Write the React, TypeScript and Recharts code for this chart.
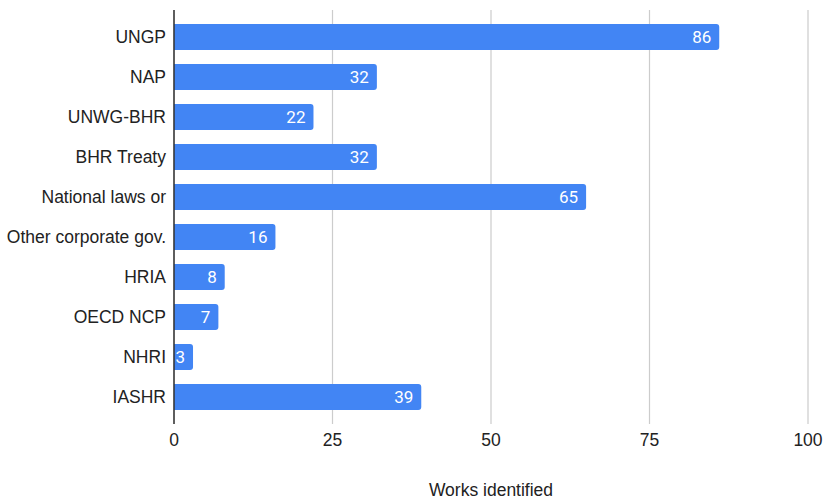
import React from 'react';
import { BarChart, Bar, XAxis, YAxis, CartesianGrid, LabelList } from 'recharts';

const categories = [
  'UNGP',
  'NAP',
  'UNWG-BHR',
  'BHR Treaty',
  'National laws or',
  'Other corporate gov.',
  'HRIA',
  'OECD NCP',
  'NHRI',
  'IASHR',
];
const works = [86, 32, 22, 32, 65, 16, 8, 7, 3, 39];
const xTicks = [0, 25, 50, 75, 100];

const data = categories.map((name, i) => ({ name, works: works[i] }));

const textFont = 'Liberation Sans, Arial, sans-serif';

const App = () => {
  return (
    <div style={{ position: 'absolute', left: 0, top: 0, background: '#fff' }}>
      <BarChart
        width={823}
        height={500}
        layout="vertical"
        data={data}
        margin={{ top: 10, right: 15, left: 0, bottom: 0 }}
        barSize={26}
      >
        <CartesianGrid horizontal={false} vertical={true} stroke="#cccccc" strokeWidth={1.2} />
        <XAxis
          type="number"
          domain={[0, 100]}
          ticks={xTicks}
          axisLine={false}
          tickLine={false}
          height={76}
          tickMargin={4}
          tick={{ fontSize: 17.5, fill: '#222', fontFamily: textFont }}
          label={{
            value: 'Works identified',
            position: 'insideBottom',
            offset: 4,
            fontSize: 17.5,
            fill: '#222',
            fontFamily: textFont,
          }}
        />
        <YAxis
          dataKey="name"
          type="category"
          width={174}
          padding={{ top: 7, bottom: 7 }}
          axisLine={{ stroke: '#333', strokeWidth: 1.5 }}
          tickLine={false}
          interval={0}
          tick={{ fontSize: 17.5, fill: '#222', fontFamily: textFont }}
        />
        <Bar dataKey="works" fill="#4285F4" radius={[0, 3, 3, 0]} isAnimationActive={false}>
          <LabelList
            dataKey="works"
            position="insideRight"
            offset={8}
            fill="#ffffff"
            fontSize={17}
            fontFamily="Roboto, sans-serif"
          />
        </Bar>
      </BarChart>
    </div>
  );
};

export default App;
